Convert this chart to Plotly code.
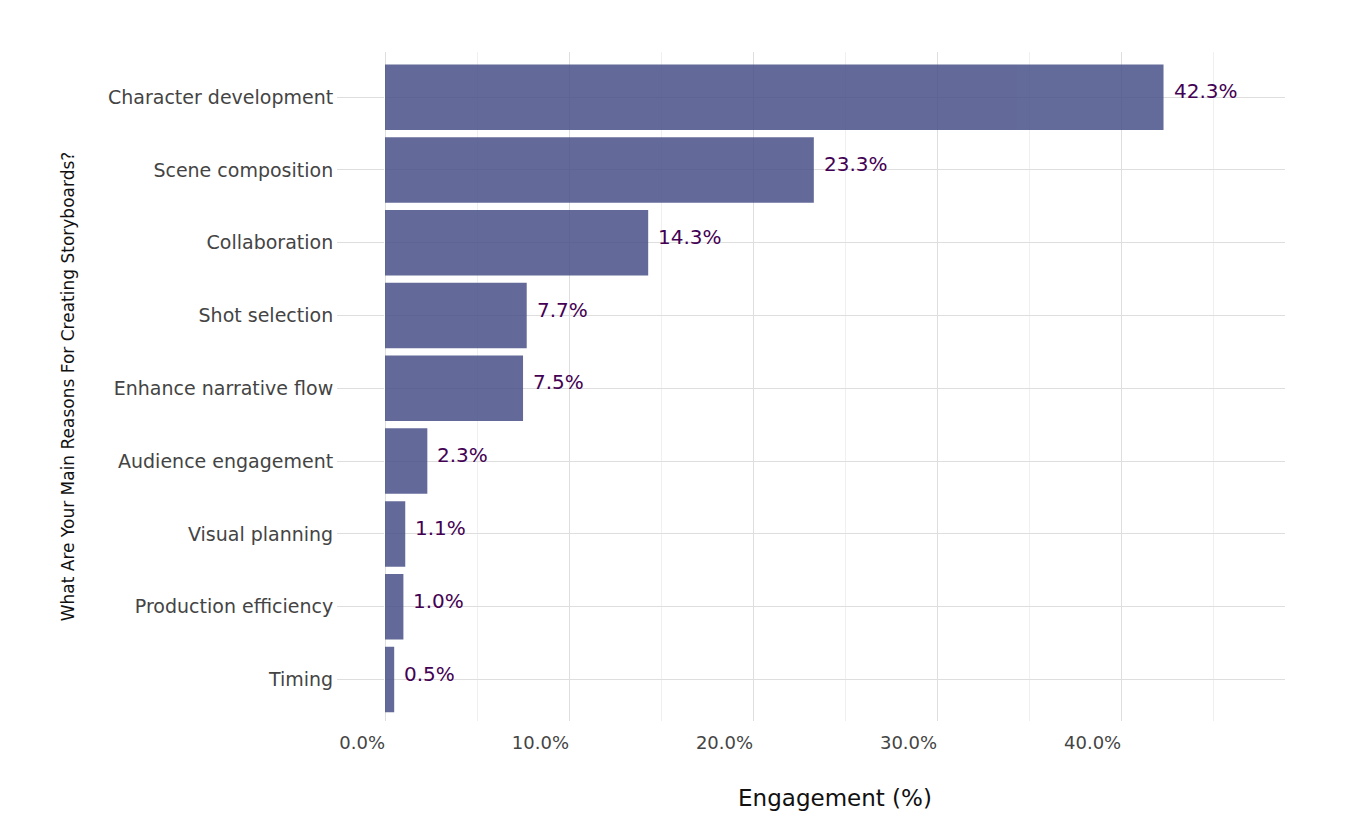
import plotly.graph_objects as go

# survey answers, top to bottom as drawn
categories = [
    "Character development",
    "Scene composition",
    "Collaboration",
    "Shot selection",
    "Enhance narrative flow",
    "Audience engagement",
    "Visual planning",
    "Production efficiency",
    "Timing",
]
engagement = [42.3, 23.3, 14.3, 7.7, 7.5, 2.3, 1.1, 1.0, 0.5]
tick_vals = [0, 10, 20, 30, 40]
tick_text = ["0.0%", "10.0%", "20.0%", "30.0%", "40.0%"]

font_family = "DejaVu Sans"

fig = go.Figure()
fig.add_trace(go.Bar(
    x=engagement,
    y=categories,
    orientation="h",
    width=0.9,
    marker=dict(color="#485188", line=dict(width=0)),
    opacity=0.85,
    hoverinfo="x+y",
))

# value labels just past the end of each bar
for cat, val in zip(categories, engagement):
    fig.add_annotation(
        x=val, y=cat, text=f"{val:.1f}%",
        xanchor="left", yanchor="middle", xshift=8, yshift=6,
        showarrow=False,
        font=dict(family=font_family, size=20, color="#440154"),
    )

fig.update_layout(
    width=1362, height=829,
    margin=dict(l=377, r=85, t=44, b=116),
    plot_bgcolor="white",
    paper_bgcolor="white",
    showlegend=False,
    font=dict(family=font_family, color="#444444"),
    bargap=0.1,
)
fig.update_xaxes(
    range=[0, 48.9],
    tickvals=tick_vals,
    ticktext=tick_text,
    ticklabelposition="outside left",
    ticklabelstandoff=9,
    tickfont=dict(size=18, color="#444444"),
    showgrid=True, gridcolor="#dedede", gridwidth=1,
    minor=dict(dtick=5, showgrid=True, gridcolor="#f0f0f0", gridwidth=1),
    zeroline=True, zerolinecolor="#dedede", zerolinewidth=1,
    showline=False,
    ticks="",
    title=dict(text="Engagement (%)", font=dict(size=23, color="#111111"), standoff=37),
)
fig.update_yaxes(
    categoryorder="array",
    categoryarray=categories,
    autorange=False,
    range=[8.57, -0.62],
    tickfont=dict(size=19, color="#444444"),
    showgrid=True, gridcolor="#dedede", gridwidth=1,
    ticks="outside", ticklen=47, tickcolor="#dedede", tickwidth=1,
    showline=False,
    zeroline=False,
    title=dict(text="What Are Your Main Reasons For Creating Storyboards?",
               font=dict(size=17, color="#111111"), standoff=29),
)

fig.write_html("out.html")
